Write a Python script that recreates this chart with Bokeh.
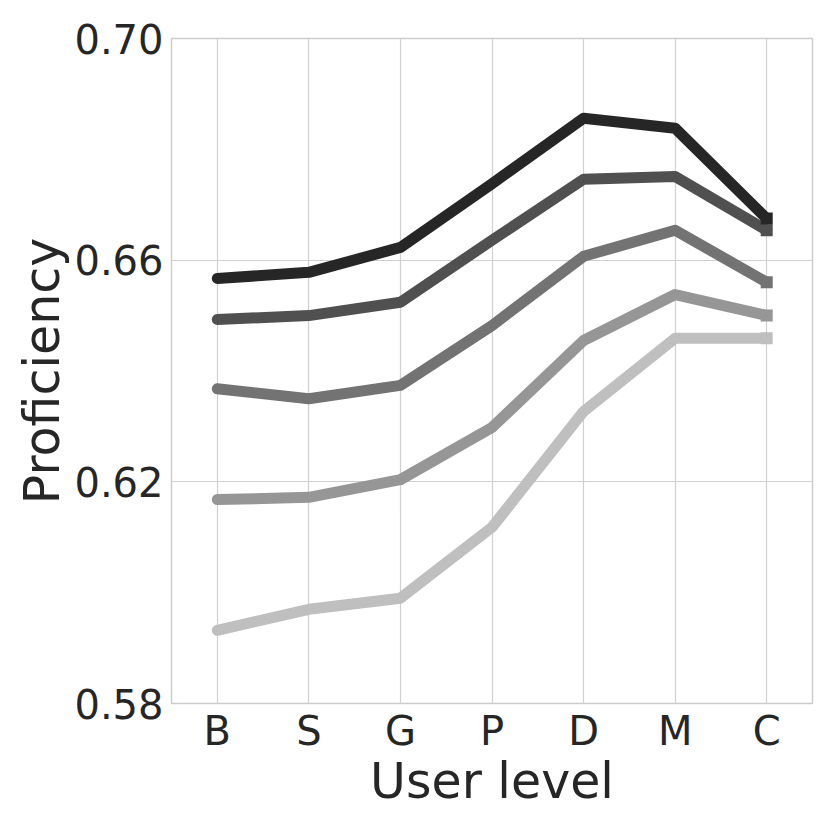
from bokeh.plotting import figure
from bokeh.models import FactorRange, Range1d, FixedTicker, PrintfTickFormatter
from bokeh.embed import file_html
from bokeh.resources import INLINE

levels = ["B", "S", "G", "P", "D", "M", "C"]
series_1 = [0.6567, 0.6578, 0.6623, 0.6738, 0.6856, 0.6838, 0.6675]
series_2 = [0.6493, 0.6500, 0.6524, 0.6636, 0.6746, 0.6751, 0.6654]
series_3 = [0.6368, 0.6350, 0.6374, 0.6482, 0.6607, 0.6654, 0.6560]
series_4 = [0.6168, 0.6172, 0.6204, 0.6298, 0.6455, 0.6538, 0.6500]
series_5 = [0.5932, 0.5970, 0.5990, 0.6118, 0.6327, 0.6459, 0.6459]
y_ticks = [0.58, 0.62, 0.66, 0.70]

all_series = [series_5, series_4, series_3, series_2, series_1]
colors = ["#bfbfbf", "#969696", "#737373", "#505050", "#262626"]

FONT = "DejaVu Sans"
TXT = "#262626"

p = figure(frame_width=641, frame_height=665,
           x_range=FactorRange(factors=levels, range_padding=0),
           y_range=Range1d(0.58, 0.70), output_backend="svg", toolbar_location=None,
           min_border_left=171, min_border_right=2, min_border_top=38, min_border_bottom=108)

for s, c in zip(all_series, colors):
    p.line(levels, s, line_color=c, line_width=11, line_cap="round", line_join="round")
    p.scatter([levels[-1]], [s[-1]], marker="square", size=12, fill_color=c, line_color=None)

p.outline_line_color = "#cccccc"
p.outline_line_width = 1.5
p.background_fill_color = "white"
p.border_fill_color = "white"

p.xgrid.grid_line_color = "#d0d0d0"
p.ygrid.grid_line_color = "#d0d0d0"
p.xgrid.grid_line_width = 1.2
p.ygrid.grid_line_width = 1.2

p.yaxis.ticker = FixedTicker(ticks=y_ticks)
p.yaxis.formatter = PrintfTickFormatter(format="%.2f")

for ax in (p.xaxis[0], p.yaxis[0]):
    ax.axis_line_color = None
    ax.major_tick_line_color = None
    ax.minor_tick_line_color = None
    ax.major_tick_out = 0
    ax.major_tick_in = 0
    ax.minor_tick_out = 0
    ax.minor_tick_in = 0
    ax.major_label_text_font = FONT
    ax.major_label_text_font_size = "40px"
    ax.major_label_text_color = TXT
    ax.axis_label_text_font = FONT
    ax.axis_label_text_font_size = "49px"
    ax.axis_label_text_color = TXT
    ax.axis_label_text_font_style = "normal"

p.xaxis.axis_label = "User level"
p.yaxis.axis_label = "Proficiency"
p.xaxis.major_label_standoff = 4
p.yaxis.major_label_standoff = 8
p.xaxis.axis_label_standoff = -4
p.yaxis.axis_label_standoff = 0

open("out.html", "w").write(file_html(p, INLINE))
